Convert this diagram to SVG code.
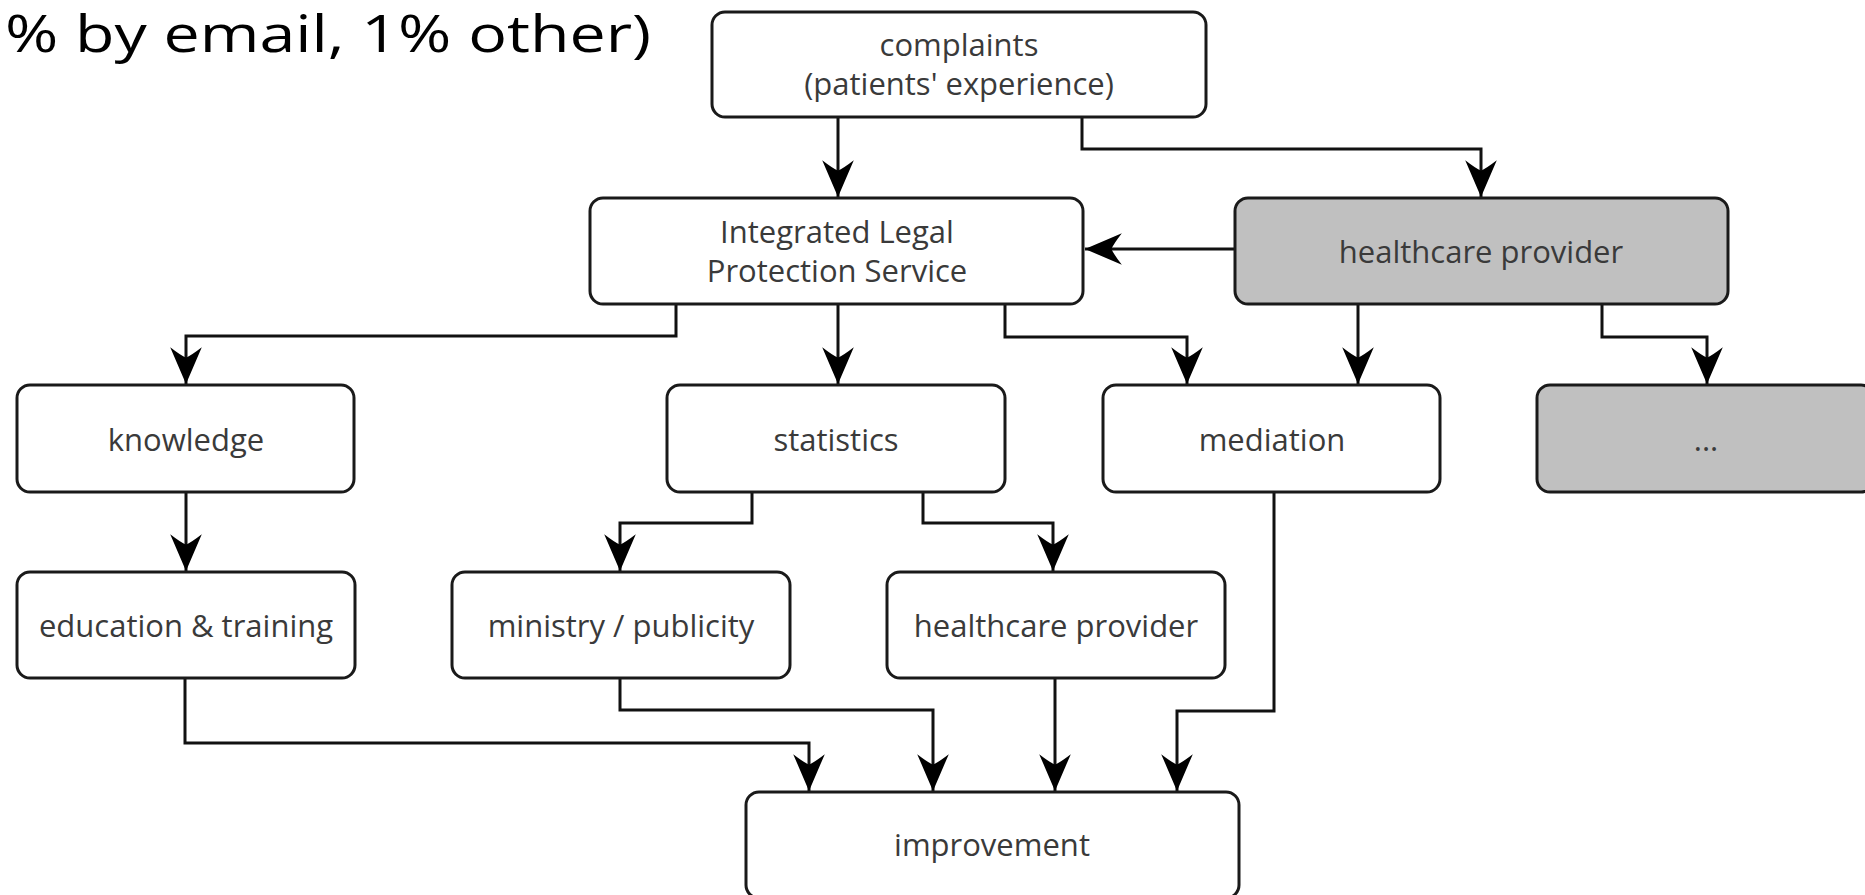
<svg xmlns="http://www.w3.org/2000/svg" width="1865" height="895" viewBox="0 0 1865 895">
<style>
.box{fill:#ffffff;stroke:#1a1a1a;stroke-width:3}
.gray{fill:#c0c0c0;stroke:#1a1a1a;stroke-width:3}
.lbl{font-family:"Open Sans","Liberation Sans",sans-serif;font-size:31px;fill:#3a3a3a;text-anchor:middle}
.conn{fill:none;stroke:#111111;stroke-width:3;marker-end:url(#arr)}
.title{font-family:"Open Sans","Liberation Sans",sans-serif;font-size:52px;fill:#000000}
</style>
<defs>
<marker id="arr" markerUnits="userSpaceOnUse" markerWidth="40" markerHeight="40" viewBox="-36 -18 38 36" refX="0" refY="0" orient="auto">
<path d="M0,0 L-35,-15 Q-28,-6 -25,0 Q-28,6 -35,15 Z" fill="#000000"/>
</marker>
</defs>
<rect width="1865" height="895" fill="#ffffff"/>
<text class="title" x="5" y="52" textLength="646" lengthAdjust="spacingAndGlyphs">% by email, 1% other)</text>

<g id="connectors">
<path class="conn" d="M838,117 V197"/>
<path class="conn" d="M1082,117 V149 H1481 V197"/>
<path class="conn" d="M1235,249 H1085"/>
<path class="conn" d="M676,304 V336 H186 V384"/>
<path class="conn" d="M838,304 V384"/>
<path class="conn" d="M1005,304 V337 H1187 V384"/>
<path class="conn" d="M1358,304 V384"/>
<path class="conn" d="M1602,304 V337 H1707 V384"/>
<path class="conn" d="M186,492 V571"/>
<path class="conn" d="M752,492 V523 H620 V571"/>
<path class="conn" d="M923,492 V523 H1053 V571"/>
<path class="conn" d="M185,678 V743 H809 V791"/>
<path class="conn" d="M620,678 V710 H933 V791"/>
<path class="conn" d="M1055,678 V791"/>
<path class="conn" d="M1274,492 V711 H1177 V791"/>
</g>

<g id="complaints">
<rect class="box" x="712" y="12" width="494" height="105" rx="13"/>
<text class="lbl" x="959" y="56">complaints</text>
<text class="lbl" x="959" y="95">(patients' experience)</text>
</g>
<g id="ilps">
<rect class="box" x="590" y="198" width="493" height="106" rx="13"/>
<text class="lbl" x="837" y="243">Integrated Legal</text>
<text class="lbl" x="837" y="282">Protection Service</text>
</g>
<g id="healthcare-provider-top">
<rect class="gray" x="1235" y="198" width="493" height="106" rx="13"/>
<text class="lbl" x="1481" y="263">healthcare provider</text>
</g>
<g id="knowledge">
<rect class="box" x="17" y="385" width="337" height="107" rx="13"/>
<text class="lbl" x="186" y="451">knowledge</text>
</g>
<g id="statistics">
<rect class="box" x="667" y="385" width="338" height="107" rx="13"/>
<text class="lbl" x="836" y="451">statistics</text>
</g>
<g id="mediation">
<rect class="box" x="1103" y="385" width="337" height="107" rx="13"/>
<text class="lbl" x="1272" y="451">mediation</text>
</g>
<g id="more">
<rect class="gray" x="1537" y="385" width="337" height="107" rx="13"/>
<text class="lbl" x="1706" y="451">...</text>
</g>
<g id="education">
<rect class="box" x="17" y="572" width="338" height="106" rx="13"/>
<text class="lbl" x="186" y="637">education &amp; training</text>
</g>
<g id="ministry">
<rect class="box" x="452" y="572" width="338" height="106" rx="13"/>
<text class="lbl" x="621" y="637">ministry / publicity</text>
</g>
<g id="healthcare-provider-bottom">
<rect class="box" x="887" y="572" width="338" height="106" rx="13"/>
<text class="lbl" x="1056" y="637">healthcare provider</text>
</g>
<g id="improvement">
<rect class="box" x="746" y="792" width="493" height="106" rx="13"/>
<text class="lbl" x="992" y="856">improvement</text>
</g>
</svg>
